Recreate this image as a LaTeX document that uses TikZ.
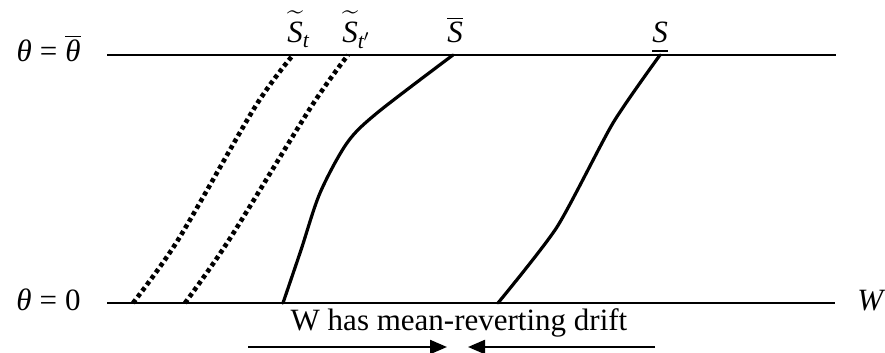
\documentclass[tikz,border=0pt]{standalone}
\usepackage{amsmath}
\usepackage{fontspec}
\setmainfont{Liberation Serif}
\usepackage{tikz}
\usetikzlibrary{arrows.meta,positioning}
\newcommand{\ivar}[1]{\text{\itshape #1}}
\tikzset{
  figlabel/.style={font=\fontsize{15.5}{18}\selectfont, text=black, inner sep=0pt},
  axisline/.style={line width=1pt, draw=black},
  solidcurve/.style={line width=1.6pt, draw=black, line cap=round},
  dotcurve/.style={line width=2.3pt, draw=black, dash pattern=on 2.1pt off 1.7pt},
  driftarrow/.style={-{Triangle[length=8.5pt, width=7pt]}, line width=1.1pt, draw=black}
}

\begin{document}
\begin{tikzpicture}[x=0.5pt, y=-0.5pt, every node/.style={figlabel}]
\useasboundingbox (0,0) rectangle (885,353);
% the two levels of theta
\coordinate (top-l) at (107,55);
\coordinate (top-r) at (836,55);
\coordinate (bot-l) at (107,303);
\coordinate (bot-r) at (835,303);
\draw[axisline] (top-l) -- (top-r);
\draw[axisline] (bot-l) -- (bot-r);
\node[anchor=base east] (thtop) at (81,62) {$\ivar{θ}\mathrel{\text{=}}\overline{\ivar{θ}}$};
\node[anchor=base east] (thbot) at (81,311) {$\ivar{θ}\mathrel{\text{=}}\text{0}$};
\node[anchor=base west] (wlab) at (857,311) {\itshape W};
% boundaries meet the upper line here
\coordinate (st-top) at (293,55);
\coordinate (stp-top) at (348,55);
\coordinate (sbar-top) at (453,55);
\coordinate (sund-top) at (660,55);
\coordinate (st-bot) at (133,303);
\coordinate (stp-bot) at (185,303);
\coordinate (sbar-bot) at (283,303);
\coordinate (sund-bot) at (498,303);
\node[anchor=base west] (stlab) at (287,43) {$\widetilde{\ivar{S}\rule{0pt}{12pt}}_{\ivar{t}}$};
\node[anchor=base west] (stplab) at (342,43) {$\widetilde{\ivar{S}\rule{0pt}{12pt}}_{\ivar{t}'}$};
\node[anchor=base] (sbarlab) at (455,43) {$\overline{\ivar{S}}$};
\node[anchor=base] (sundlab) at (660,43) {$\underline{\ivar{S}\rule[-2pt]{0pt}{0pt}}$};
% boundary curves
\draw[dotcurve] plot[smooth, tension=0.5] coordinates {(st-bot) (178,240) (255,107) (st-top)};
\draw[dotcurve] plot[smooth, tension=0.5] coordinates {(stp-bot) (229,240) (311,107) (stp-top)};
\draw[solidcurve] plot[smooth, tension=0.5] coordinates {(sbar-bot) (301,250) (320,193) (347,143) (377,113) (sbar-top)};
\draw[solidcurve] plot[smooth, tension=0.4] coordinates {(sund-bot) (557,227) (613,123) (sund-top)};
% drift note
\node[anchor=base] (drift) at (459,330) {W has mean-reverting drift};
\coordinate (arr-l) at (248,347);
\coordinate (arr-lm) at (447,347);
\coordinate (arr-rm) at (468,347);
\coordinate (arr-r) at (655,347);
\draw[driftarrow] (arr-l) -- (arr-lm);
\draw[driftarrow] (arr-r) -- (arr-rm);
\end{tikzpicture}
\end{document}
